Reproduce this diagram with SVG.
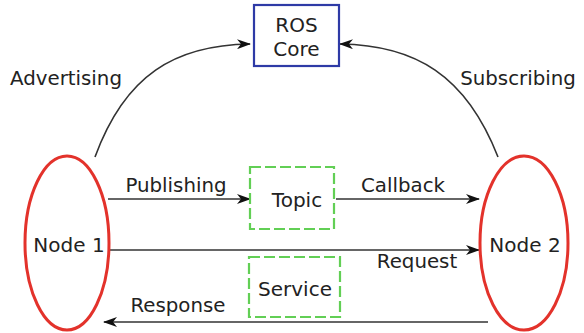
<svg xmlns="http://www.w3.org/2000/svg" width="584" height="333" viewBox="0 0 584 333">
<defs>
<marker id="arr" markerWidth="14" markerHeight="10" refX="13" refY="5" orient="auto" markerUnits="userSpaceOnUse">
<path d="M0,0 L14,5 L0,10 L4,5 Z" fill="#111"/>
</marker>
<style>
text{font-family:"DejaVu Sans","Liberation Sans",sans-serif;fill:#222;text-anchor:middle}
.lbl{font-size:19.8px}
.nd{font-size:20px}
.edge{fill:none;stroke:#333;stroke-width:1.6;marker-end:url(#arr)}
.node{fill:#fff;stroke:#e3322b;stroke-width:3}
.dash{fill:#fff;stroke:#62cf55;stroke-width:2.2;stroke-dasharray:11 4}
</style>
</defs>
<rect width="584" height="333" fill="#fff"/>
<g id="connectors">
<path class="edge" d="M95,157 C125,75 175,45 250,44"/>
<path class="edge" d="M498,157 C466,75 415,45 340,44"/>
<path class="edge" d="M108,199 L250,199"/>
<path class="edge" d="M336,199 L479,199"/>
<path class="edge" d="M110,250 L479,250"/>
<path class="edge" d="M488,322 L104,322"/>
<text class="lbl" x="66" y="85">Advertising</text>
<text class="lbl" x="518" y="85">Subscribing</text>
<text class="lbl" x="176" y="192">Publishing</text>
<text class="lbl" x="403" y="192">Callback</text>
<text class="lbl" x="417" y="268">Request</text>
<text class="lbl" x="178" y="312">Response</text>
</g>
<g id="ros-core">
<rect x="254" y="5" width="85" height="61" fill="#fff" stroke="#2e3aa6" stroke-width="2.2"/>
<text class="nd" x="296.5" y="32">ROS</text>
<text class="nd" x="296.5" y="56">Core</text>
</g>
<g id="node1">
<ellipse class="node" cx="67" cy="243" rx="42" ry="87"/>
<text class="nd" x="69" y="252">Node 1</text>
</g>
<g id="node2">
<ellipse class="node" cx="524" cy="243" rx="44" ry="87"/>
<text class="nd" x="525" y="252">Node 2</text>
</g>
<g id="topic">
<rect class="dash" x="250" y="167" width="84" height="62"/>
<text class="nd" x="297" y="207">Topic</text>
</g>
<g id="service">
<rect class="dash" x="249" y="257" width="91" height="60"/>
<text class="nd" x="295" y="296">Service</text>
</g>
</svg>
